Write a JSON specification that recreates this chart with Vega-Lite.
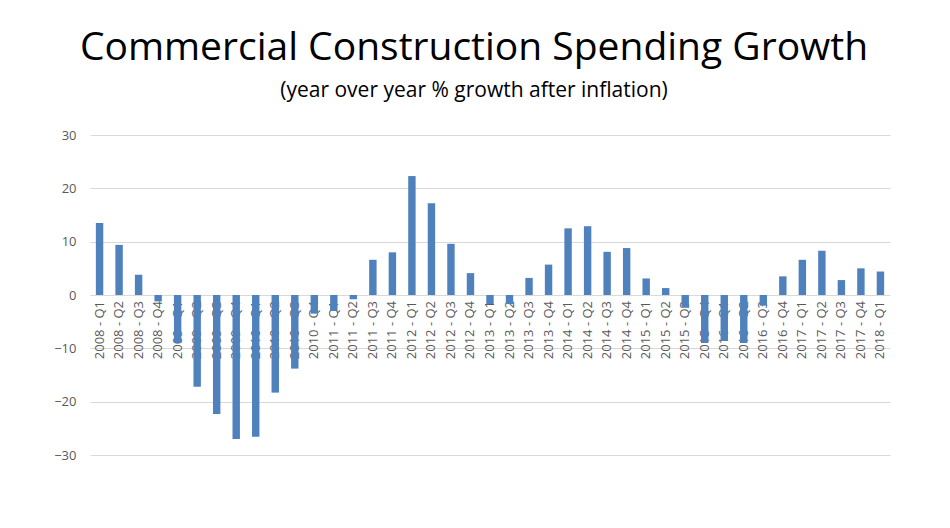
{
"$schema":"https://vega.github.io/schema/vega-lite/v6.json",
"width":800,"height":320,
"autosize":{"type":"none"},
"padding":{"left":90,"top":135,"right":60,"bottom":73},
"background":"white",
"title":{"text":"Commercial Construction Spending Growth","subtitle":"(year over year % growth after inflation)","fontSize":39,"font":"Open Sans","fontWeight":"normal","color":"#000","subtitleFontSize":21,"subtitleFont":"Open Sans","subtitleColor":"#000","subtitlePadding":12,"anchor":"middle","frame":"group","offset":28,"dx":-16},
"config":{"view":{"stroke":null},"font":"Open Sans"},
"data":{"values":[
{"q":"2008 - Q1","v":13.5},{"q":"2008 - Q2","v":9.4},{"q":"2008 - Q3","v":3.8},{"q":"2008 - Q4","v":-1.2},
{"q":"2009 - Q1","v":-9},{"q":"2009 - Q2","v":-17.2},{"q":"2009 - Q3","v":-22.3},{"q":"2009 - Q4","v":-27},
{"q":"2010 - Q1","v":-26.6},{"q":"2010 - Q2","v":-18.3},{"q":"2010 - Q3","v":-13.8},{"q":"2010 - Q4","v":-3.5},
{"q":"2011 - Q1","v":-3},{"q":"2011 - Q2","v":-0.8},{"q":"2011 - Q3","v":6.6},{"q":"2011 - Q4","v":8},
{"q":"2012 - Q1","v":22.3},{"q":"2012 - Q2","v":17.2},{"q":"2012 - Q3","v":9.6},{"q":"2012 - Q4","v":4.1},
{"q":"2013 - Q1","v":-1.7},{"q":"2013 - Q2","v":-1.7},{"q":"2013 - Q3","v":3.2},{"q":"2013 - Q4","v":5.7},
{"q":"2014 - Q1","v":12.5},{"q":"2014 - Q2","v":12.9},{"q":"2014 - Q3","v":8.1},{"q":"2014 - Q4","v":8.8},
{"q":"2015 - Q1","v":3.1},{"q":"2015 - Q2","v":1.3},{"q":"2015 - Q3","v":-2.4},{"q":"2015 - Q4","v":-9},
{"q":"2016 - Q1","v":-8.5},{"q":"2016 - Q2","v":-9},{"q":"2016 - Q3","v":-2},{"q":"2016 - Q4","v":3.5},
{"q":"2017 - Q1","v":6.6},{"q":"2017 - Q2","v":8.3},{"q":"2017 - Q3","v":2.8},{"q":"2017 - Q4","v":5},
{"q":"2018 - Q1","v":4.4}]},
"encoding":{
 "x":{"field":"q","type":"nominal","sort":null,"scale":{"paddingInner":0.62,"paddingOuter":0.3},"axis":null},
 "y":{"field":"v","type":"quantitative","scale":{"domain":[-30,30],"nice":false},"axis":{"values":[-30,-20,-10,0,10,20,30],"title":null,"domain":false,"ticks":false,"labelPadding":14,"labelFontSize":13,"labelColor":"#595959","gridColor":"#d9d9d9"}}
},
"layer":[
 {"mark":{"type":"text","angle":-90,"align":"right","baseline":"middle","dx":-6,"fontSize":13,"color":"#595959"},"encoding":{"y":{"datum":0},"text":{"field":"q"}}},
 {"mark":{"type":"bar","color":"#4F81BD"}}
]
}
